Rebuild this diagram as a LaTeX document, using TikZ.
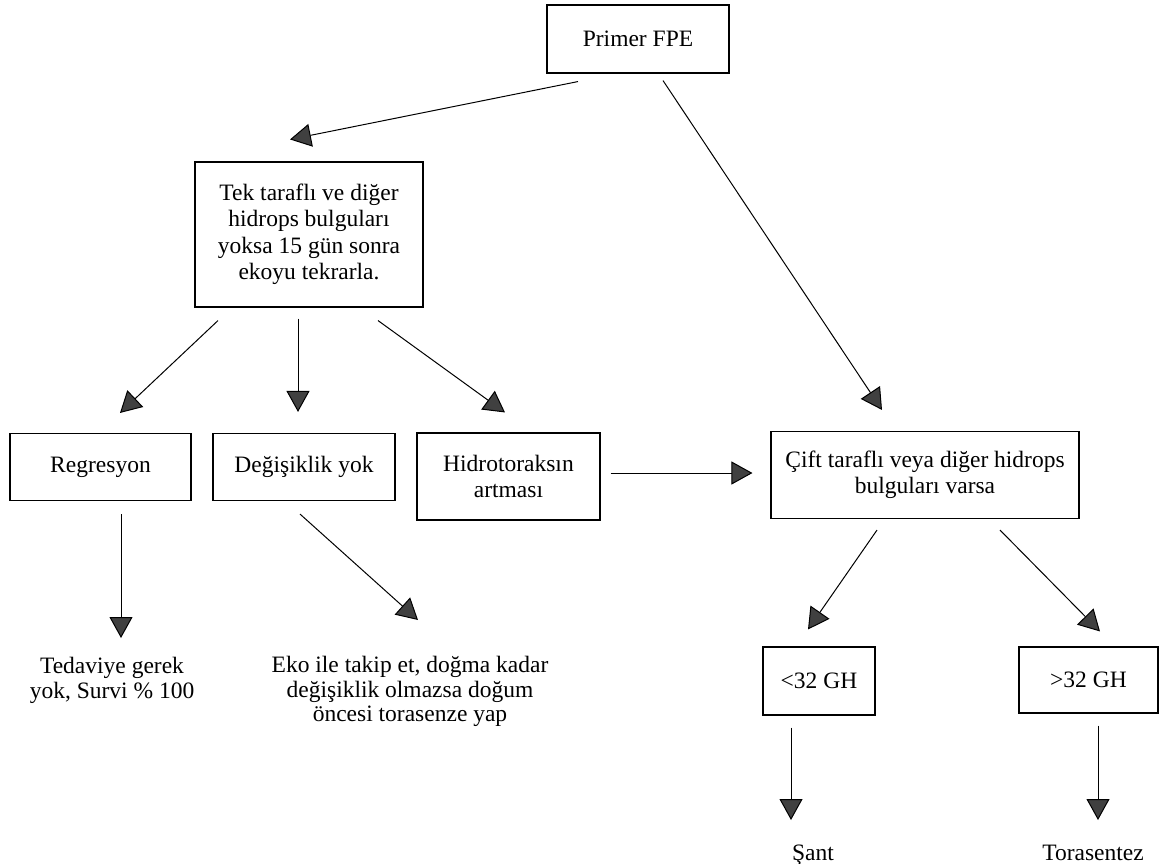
\documentclass[tikz,border=0pt]{standalone}
\usepackage{fontspec}
\setmainfont{Liberation Serif}
\usetikzlibrary{arrows.meta,calc}
\begin{document}
\begin{tikzpicture}[x=1pt,y=-1pt,
  box/.style={draw, line width=1.1pt, inner sep=0pt, align=center, font=\fontsize{23.5}{26.5}\selectfont},
  txt/.style={align=center, inner sep=0pt, font=\fontsize{23.5}{24.5}\selectfont},
  arr/.style={line width=1pt, -{Triangle[length=21pt,width=23pt,fill=black!75]}}]
\useasboundingbox (0,0) rectangle (1159,863);
\fill[white] (0,0) rectangle (1159,863);
% boxes
\node[box, minimum width=182pt, minimum height=68pt] (primer) at (638,39) {Primer FPE};
\node[box, minimum width=228pt, minimum height=145pt] (tek) at (309,234.5) {Tek taraflı ve diğer\\hidrops bulguları\\yoksa 15 gün sonra\\ekoyu tekrarla.};
\node[box, minimum width=181pt, minimum height=67pt] (reg) at (100.5,467) {Regresyon};
\node[box, minimum width=182pt, minimum height=67pt] (deg) at (304,467) {Değişiklik yok};
\node[box, minimum width=183pt, minimum height=87pt] (hid) at (508.5,476.5) {Hidrotoraksın\\artması};
\node[box, minimum width=308pt, minimum height=87pt] (cift) at (925,475) {Çift taraflı veya diğer hidrops\\bulguları varsa};
\node[box, minimum width=112pt, minimum height=68pt] (lt) at (819,681) {<32 GH};
\node[box, minimum width=139pt, minimum height=66pt] (gt) at (1088.5,680) {>32 GH};
% free texts
\node[txt, anchor=north] (ted) at (112,657) {Tedaviye gerek\\yok, Survi \% 100};
\node[txt, anchor=north] (eko) at (410,656) {Eko ile takip et, doğma kadar\\değişiklik olmazsa doğum\\öncesi torasenze yap};
\node[txt, anchor=base] (sant) at (813,860) {Şant};
\node[txt, anchor=base] (tora) at (1093,860) {Torasentez};
% arrows
\draw[arr] ([xshift=-60pt,yshift=-8pt]primer.south) -- ([xshift=-19pt,yshift=22pt]tek.north);
\draw[arr] ([xshift=25pt,yshift=-7pt]primer.south) -- ([xshift=-43pt,yshift=21pt]cift.north);
\draw[arr] ([xshift=-91pt,yshift=-13pt]tek.south) -- ([xshift=19.5pt,yshift=20pt]reg.north);
\draw[arr] ([xshift=-11pt,yshift=-11pt]tek.south) -- ([xshift=-6pt,yshift=21pt]deg.north);
\draw[arr] ([xshift=69pt,yshift=-13pt]tek.south) -- ([xshift=-3.5pt,yshift=20pt]hid.north);
\draw[arr] ([xshift=20.5pt,yshift=-13pt]reg.south) -- ([xshift=9pt,yshift=19pt]ted.north);
\draw[arr] ([xshift=-4pt,yshift=-13pt]deg.south) -- ([xshift=8pt,yshift=36pt]eko.north);
\draw[arr] ([xshift=10pt,yshift=3.5pt]hid.east) -- ([xshift=-18pt,yshift=2pt]cift.west);
\draw[arr] ([xshift=-48pt,yshift=-11pt]cift.south) -- ([xshift=-11pt,yshift=17pt]lt.north);
\draw[arr] ([xshift=75pt,yshift=-11pt]cift.south) -- ([xshift=11.5pt,yshift=15pt]gt.north);
\draw[arr] ([xshift=-28pt,yshift=-12pt]lt.south) -- ([xshift=-22pt,yshift=40pt]sant.base);
\draw[arr] ([xshift=9.5pt,yshift=-12pt]gt.south) -- ([xshift=5pt,yshift=40pt]tora.base);
\end{tikzpicture}
\end{document}
